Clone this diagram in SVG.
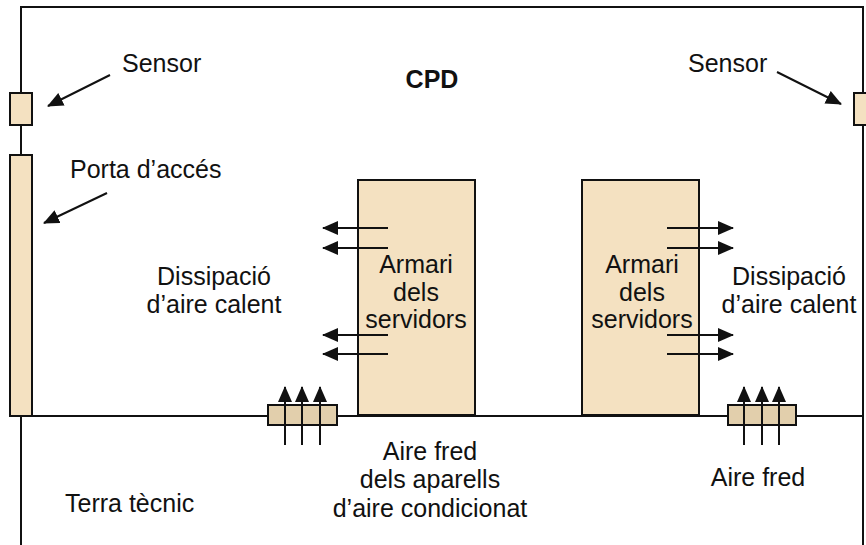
<svg xmlns="http://www.w3.org/2000/svg" width="866" height="545" viewBox="0 0 866 545">
  <style>
    .wall { fill: none; stroke: #111; stroke-width: 2; }
    .part { fill: #f4e1c1; stroke: #111; stroke-width: 2; }
    .grate { fill: #e2cfac; stroke: #111; stroke-width: 2; }
    .flow { stroke: #111; stroke-width: 2; fill: none; marker-end: url(#head); }
    text { font-family: "Liberation Sans", Arial, sans-serif; font-size: 25px; fill: #111; }
    .mid { text-anchor: middle; }
  </style>
  <defs>
    <marker id="head" markerUnits="userSpaceOnUse" markerWidth="16" markerHeight="14" refX="15" refY="7" orient="auto">
      <path d="M0,0 L16,7 L0,14 Z" fill="#111"/>
    </marker>
  </defs>

  <rect width="866" height="545" fill="#fff"/>

  <!-- room outline: ceiling, walls and raised floor -->
  <g id="room">
    <polyline class="wall" points="21,545 21,7 863,7 863,545"/>
    <line class="wall" x1="21" y1="416" x2="863" y2="416"/>
  </g>

  <g id="sensor-left"><rect class="part" x="10" y="93" width="22" height="32"/></g>
  <g id="sensor-right"><rect class="part" x="854" y="93" width="14" height="32"/></g>
  <g id="door"><rect class="part" x="10" y="155" width="22" height="261"/></g>

  <g id="rack-left">
    <rect class="part" x="358" y="180" width="117" height="235"/>
    <text class="mid" x="416" y="273">Armari</text>
    <text class="mid" x="416" y="301">dels</text>
    <text class="mid" x="416" y="328">servidors</text>
  </g>
  <g id="rack-right">
    <rect class="part" x="582" y="180" width="117" height="235"/>
    <text class="mid" x="642" y="273">Armari</text>
    <text class="mid" x="642" y="301">dels</text>
    <text class="mid" x="642" y="328">servidors</text>
  </g>

  <g id="vent-left"><rect class="grate" x="268" y="405" width="69" height="20"/></g>
  <g id="vent-right"><rect class="grate" x="728" y="405" width="68" height="20"/></g>

  <!-- connectors: pointers and air flow -->
  <g id="connectors">
    <line class="flow" x1="110" y1="75" x2="48" y2="106"/>
    <line class="flow" x1="777" y1="72" x2="841" y2="104"/>
    <line class="flow" x1="107" y1="193" x2="44" y2="223"/>

    <line class="flow" x1="388" y1="228" x2="323" y2="228"/>
    <line class="flow" x1="388" y1="248" x2="323" y2="248"/>
    <line class="flow" x1="388" y1="335" x2="323" y2="335"/>
    <line class="flow" x1="388" y1="354" x2="323" y2="354"/>

    <line class="flow" x1="667" y1="228" x2="733" y2="228"/>
    <line class="flow" x1="667" y1="248" x2="733" y2="248"/>
    <line class="flow" x1="667" y1="335" x2="733" y2="335"/>
    <line class="flow" x1="667" y1="354" x2="733" y2="354"/>

    <line class="flow" x1="285" y1="445" x2="285" y2="387"/>
    <line class="flow" x1="302" y1="445" x2="302" y2="387"/>
    <line class="flow" x1="320" y1="445" x2="320" y2="387"/>

    <line class="flow" x1="744" y1="445" x2="744" y2="387"/>
    <line class="flow" x1="762" y1="445" x2="762" y2="387"/>
    <line class="flow" x1="779" y1="445" x2="779" y2="387"/>
  </g>

  <g id="labels">
    <text x="122" y="72">Sensor</text>
    <text x="688" y="72">Sensor</text>
    <text class="mid" x="432" y="88" font-weight="bold">CPD</text>
    <text x="70" y="178">Porta d’accés</text>
    <text class="mid" x="214" y="285">Dissipació</text>
    <text class="mid" x="214" y="313">d’aire calent</text>
    <text class="mid" x="789" y="285">Dissipació</text>
    <text class="mid" x="789" y="313">d’aire calent</text>
    <text class="mid" x="430" y="460">Aire fred</text>
    <text class="mid" x="430" y="488">dels aparells</text>
    <text class="mid" x="430" y="517">d’aire condicionat</text>
    <text class="mid" x="758" y="486">Aire fred</text>
    <text x="65" y="512">Terra tècnic</text>
  </g>
</svg>
